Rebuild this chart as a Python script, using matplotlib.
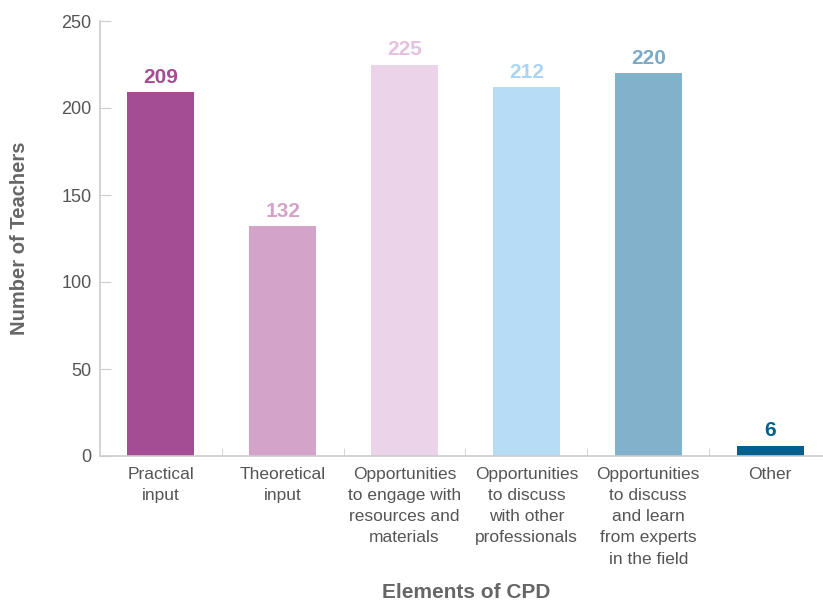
import numpy as np
import matplotlib.pyplot as plt

plt.rcParams['font.family'] = ['Liberation Sans', 'DejaVu Sans']

# CPD elements and teacher counts
categories = ['Practical\ninput', 'Theoretical\ninput',
              'Opportunities\nto engage with\nresources and\nmaterials',
              'Opportunities\nto discuss\nwith other\nprofessionals',
              'Opportunities\nto discuss\nand learn\nfrom experts\nin the field',
              'Other']
counts = [209, 132, 225, 212, 220, 6]
bar_colors = ['#a54d94', '#d4a3c9', '#ebd3e9', '#b6dcf6', '#82b2cb', '#005f8c']
label_colors = ['#a54d94', '#d4a3c9', '#e6c0df', '#a9d5f3', '#7aaac5', '#005f8c']

fig = plt.figure(figsize=(8.23, 6.04), dpi=100)
ax = fig.add_axes([100 / 823, 148 / 604, 731 / 823, 435 / 604])

x = np.arange(len(categories))
bars = ax.bar(x, counts, width=0.55, color=bar_colors)

for xi, v, c in zip(x, counts, label_colors):
    ax.text(xi, v + 3, str(v), ha='center', va='bottom', fontsize=15,
            fontweight='bold', color=c)

ax.set_xlim(-0.5, len(categories) - 0.5)
ax.set_ylim(0, 250)
ax.set_yticks([0, 50, 100, 150, 200, 250])

ax.set_xticks(x)
ax.set_xticklabels(categories, fontsize=12.5, color='#555555', linespacing=1.51)
ax.set_xticks(np.arange(0.5, len(categories) - 0.5), minor=True)
ax.tick_params(axis='x', which='major', length=0, pad=8)
ax.tick_params(axis='x', which='minor', direction='in', length=6, color='#cccccc')
ax.tick_params(axis='y', direction='in', length=8, color='#cccccc', labelsize=13,
               labelcolor='#555555', pad=6)

for side in ['top', 'right']:
    ax.spines[side].set_visible(False)
for side in ['left', 'bottom']:
    ax.spines[side].set_color('#cccccc')
    ax.spines[side].set_linewidth(1.2)

ax.set_ylabel('Number of Teachers', fontsize=14.5, fontweight='bold', color='#666666', labelpad=23)
fig.text(466 / 823, 1 - 593 / 604, 'Elements of CPD', ha='center', va='center',
         fontsize=15, fontweight='bold', color='#666666')

fig.savefig('out.png', dpi=100)
